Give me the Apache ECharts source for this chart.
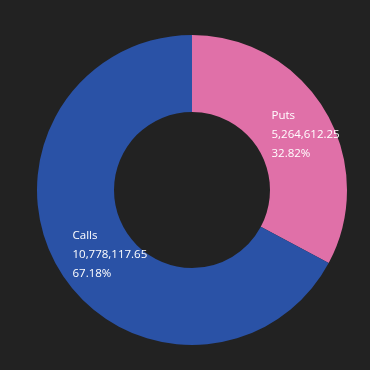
<!DOCTYPE html>
<html>
<head>
<meta charset="utf-8">
<script src="https://cdn.jsdelivr.net/npm/echarts@6/dist/echarts.min.js"></script>
<style>
  html, body { margin: 0; padding: 0; background: #222222; }
  #chart { width: 370px; height: 370px; }
</style>
</head>
<body>
<div id="chart"></div>
<script>
const names = ['Puts', 'Calls'];
const values = [5264612.25, 10778117.65];
const colors = ['#e070a8', '#2a52a6'];
const labelOffsets = [[17, 6], [23, 3]];

const total = values.reduce((a, b) => a + b, 0);
const fmt = v => v.toLocaleString('en-US', { minimumFractionDigits: 2, maximumFractionDigits: 2 });

const chart = echarts.init(document.getElementById('chart'));

chart.setOption({
  backgroundColor: '#222222',
  animation: false,
  series: [
    {
      type: 'pie',
      center: [192, 190],
      radius: [78, 155],
      startAngle: 90,
      clockwise: true,
      data: names.map((n, i) => ({
        name: n,
        value: values[i],
        itemStyle: { color: colors[i] },
        label: { offset: labelOffsets[i] }
      })),
      label: {
        show: true,
        position: 'inside',
        color: '#ffffff',
        formatter: p => `{t|${p.name}}\n{t|${fmt(p.value)}}\n{t|${(p.value / total * 100).toFixed(2)}%}`,
        rich: {
          t: {
            width: 80,
            align: 'left',
            color: '#ffffff',
            fontFamily: 'Open Sans, sans-serif',
            fontSize: 11.5,
            lineHeight: 19
          }
        }
      },
      labelLine: { show: false }
    }
  ]
});
</script>
</body>
</html>
